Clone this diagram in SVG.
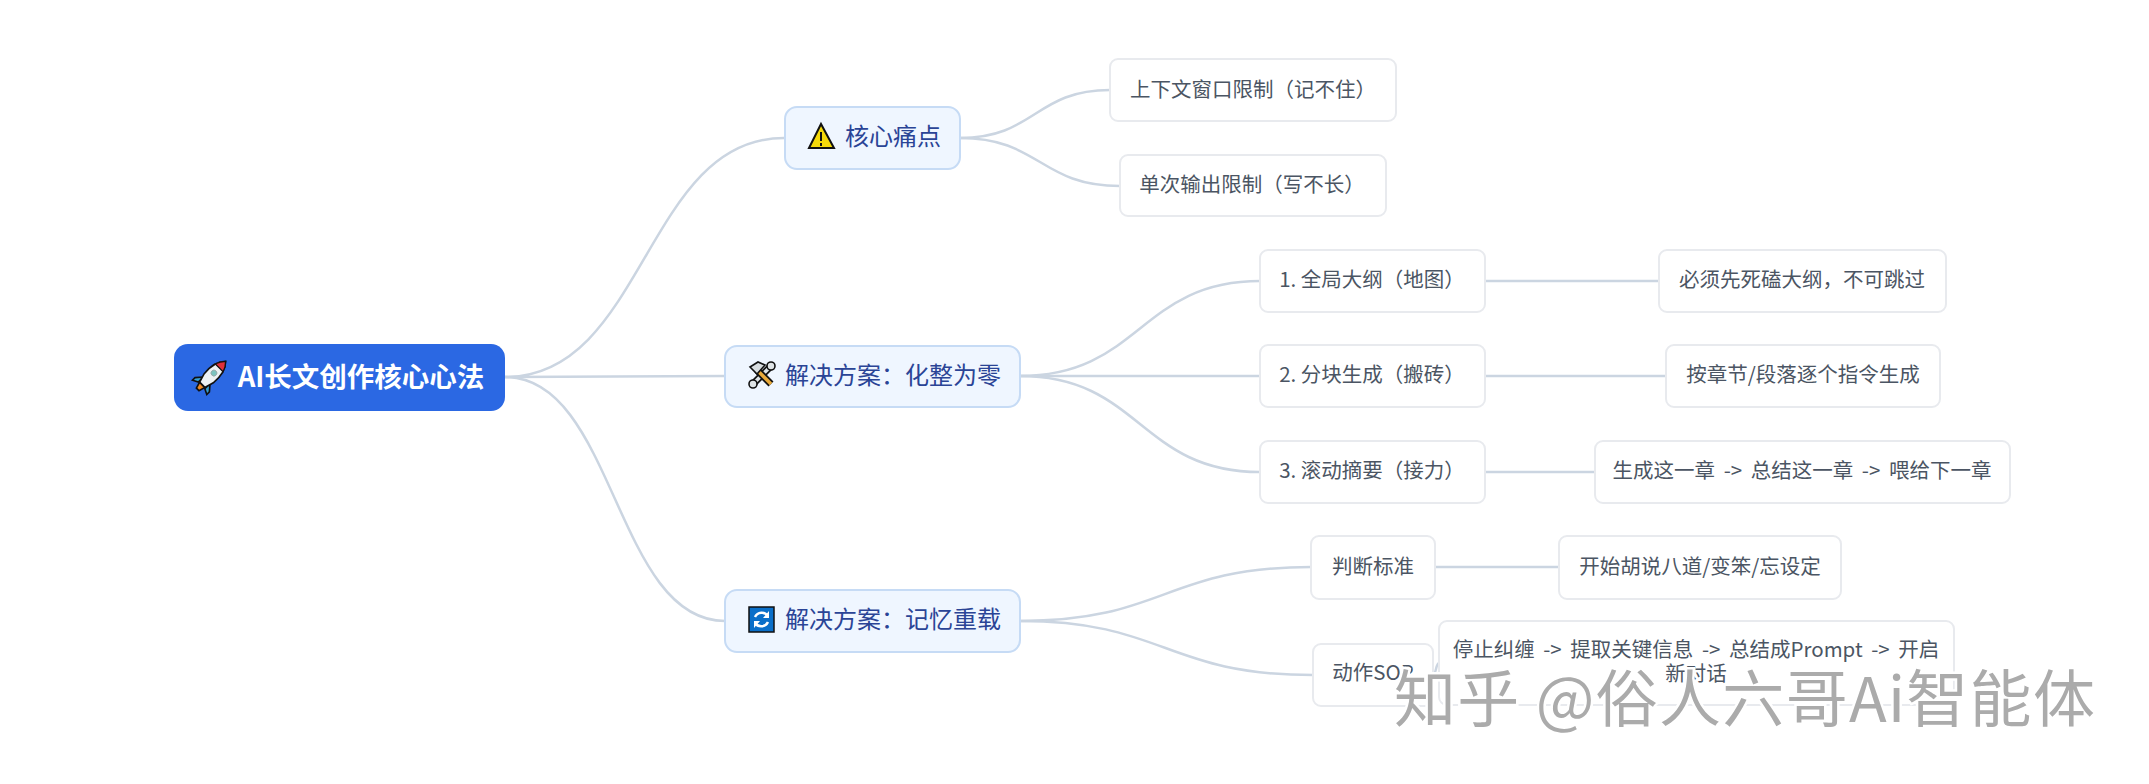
<svg xmlns="http://www.w3.org/2000/svg" width="2149" height="784" viewBox="0 0 2149 784">
<style>
text{font-family:"Noto Sans CJK SC","Noto Sans",sans-serif;text-anchor:middle}
.c path{fill:none;stroke:#cbd5e1;stroke-width:2.5}
.b>rect{fill:#eff6ff;stroke:#c6dbf5;stroke-width:2}
.b text{font-size:24px;fill:#2a4496}
.l rect{fill:#fff;stroke:#e8eaee;stroke-width:2}
.l text{font-size:20.5px;fill:#4b5563}
.a{word-spacing:4px}
.wm{font-size:62px;letter-spacing:1.3px;fill:#ababab;stroke:#fff;stroke-width:5;paint-order:stroke;text-anchor:start}
</style>
<rect width="2149" height="784" fill="#fff"/>
<g class="c" id="connectors">
<path d="M505 377C645 377 645 138 784 138"/>
<path d="M505 377C615 377 615 376 725 376"/>
<path d="M505 377C615 377 615 621 725 621"/>
<path d="M960 138C1035 138 1035 90 1110 90"/>
<path d="M960 138C1040 138 1040 186 1120 186"/>
<path d="M1020 376C1140 376 1140 281 1260 281"/>
<path d="M1020 376L1260 376"/>
<path d="M1020 376C1140 376 1140 472 1260 472"/>
<path d="M1020 621C1165 621 1165 567 1311 567"/>
<path d="M1020 621C1165 621 1165 675 1313 675"/>
<path d="M1485 281H1659"/>
<path d="M1485 376H1666"/>
<path d="M1485 472H1595"/>
<path d="M1435 567H1559"/>
<path d="M1433 675C1436 675 1436 663 1439 663"/>
</g>
<g id="root">
<rect x="174" y="344" width="331" height="67" rx="14" fill="#2b68e3"/>
<g id="rocket" transform="translate(212 375) rotate(45) scale(.92)">
<path d="M-5 8L-11 15L-11 19L-5 16Z M5 8L11 15L11 19L5 16Z" fill="#35a0d6" stroke="#111" stroke-width="1.8"/>
<path d="M-4 15H4L2 22H-2Z" fill="#f08a24" stroke="#111" stroke-width="1.8"/>
<path d="M0 -21C-7 -14 -8 -4 -7 5L-4 15H4L7 5C8 -4 7 -14 0 -21Z" fill="#eef2f4" stroke="#111" stroke-width="1.8"/>
<path d="M0 -21C-3 -18 -5 -15 -6 -11H6C5 -15 3 -18 0 -21Z" fill="#e0303a" stroke="#111" stroke-width="1.4"/>
<circle cx="0" cy="-3" r="3.2" fill="#7cc4c0" stroke="#9aa" stroke-width="1"/>
</g>
<text x="361" y="387" font-size="27.5" font-weight="700" fill="#fff">AI长文创作核心心法</text>
</g>
<g class="b" id="pain">
<rect x="785" y="107" width="175" height="62" rx="12"/>
<path d="M821 124L809 148H834Z" fill="#f5d90a" stroke="#111" stroke-width="2"/>
<path d="M821 132V141M821 143V146" stroke="#111" stroke-width="2" fill="none"/>
<text x="893" y="145">核心痛点</text>
</g>
<g class="b" id="split">
<rect x="725" y="346" width="295" height="61" rx="12"/>
<path d="M771 366L753 384" stroke="#111" stroke-width="7"/><path d="M771 366L753 384" stroke="#dfe4e6" stroke-width="3.5"/>
<circle cx="771" cy="366" r="4" fill="#dfe4e6" stroke="#111" stroke-width="1.6"/>
<circle cx="753" cy="384" r="4" fill="#dfe4e6" stroke="#111" stroke-width="1.6"/>
<path d="M757 370L771 384" stroke="#111" stroke-width="7"/><path d="M757 370L771 384" stroke="#e8a93a" stroke-width="3.5"/>
<path d="M750 367L758 362L765 365L757 374Z" fill="#d8dde0" stroke="#111" stroke-width="1.6"/>
<text x="893" y="384">解决方案：化整为零</text>
</g>
<g class="b" id="reload">
<rect x="725" y="590" width="295" height="62" rx="12"/>
<path d="M749 607H774V632H749Z" fill="#0a6fc9" stroke="#111" stroke-width="1.5"/>
<path d="M768 616A7.5 7.5 0 0 0 755 617M755 623A7.5 7.5 0 0 0 768 622" fill="none" stroke="#fff" stroke-width="2.5"/>
<path d="M769 611V618H763Z M754 628V621H760Z" fill="#fff"/>
<text x="893" y="628">解决方案：记忆重载</text>
</g>
<g class="l" id="n1"><rect x="1110" y="59" width="286" height="62" rx="8"/><text x="1253" y="97">上下文窗口限制（记不住）</text></g>
<g class="l" id="n2"><rect x="1120" y="155" width="266" height="61" rx="8"/><text x="1252" y="192">单次输出限制（写不长）</text></g>
<g class="l" id="n3"><rect x="1260" y="250" width="225" height="62" rx="8"/><text x="1372" y="287">1. 全局大纲（地图）</text></g>
<g class="l" id="n4"><rect x="1260" y="345" width="225" height="62" rx="8"/><text x="1372" y="382">2. 分块生成（搬砖）</text></g>
<g class="l" id="n5"><rect x="1260" y="441" width="225" height="62" rx="8"/><text x="1372" y="478">3. 滚动摘要（接力）</text></g>
<g class="l" id="n6"><rect x="1659" y="250" width="287" height="62" rx="8"/><text x="1802" y="287">必须先死磕大纲，不可跳过</text></g>
<g class="l" id="n7"><rect x="1666" y="345" width="274" height="62" rx="8"/><text x="1803" y="382">按章节/段落逐个指令生成</text></g>
<g class="l" id="n8"><rect x="1595" y="441" width="415" height="62" rx="8"/><text class="a" x="1802" y="478">生成这一章 -&gt; 总结这一章 -&gt; 喂给下一章</text></g>
<g class="l" id="n9"><rect x="1311" y="536" width="124" height="63" rx="8"/><text x="1373" y="574">判断标准</text></g>
<g class="l" id="n10"><rect x="1559" y="536" width="282" height="63" rx="8"/><text x="1700" y="574">开始胡说八道/变笨/忘设定</text></g>
<g class="l" id="n11"><rect x="1313" y="644" width="120" height="62" rx="8"/><text x="1373" y="680">动作SOP</text></g>
<g class="l" id="n12"><rect x="1439" y="621" width="515" height="84" rx="8"/><text class="a" x="1696" y="657">停止纠缠 -&gt; 提取关键信息 -&gt; 总结成Prompt -&gt; 开启</text><text x="1696" y="681">新对话</text></g>
<text class="wm" x="1394" y="722">知乎 @俗人六哥Ai智能体</text>
</svg>
